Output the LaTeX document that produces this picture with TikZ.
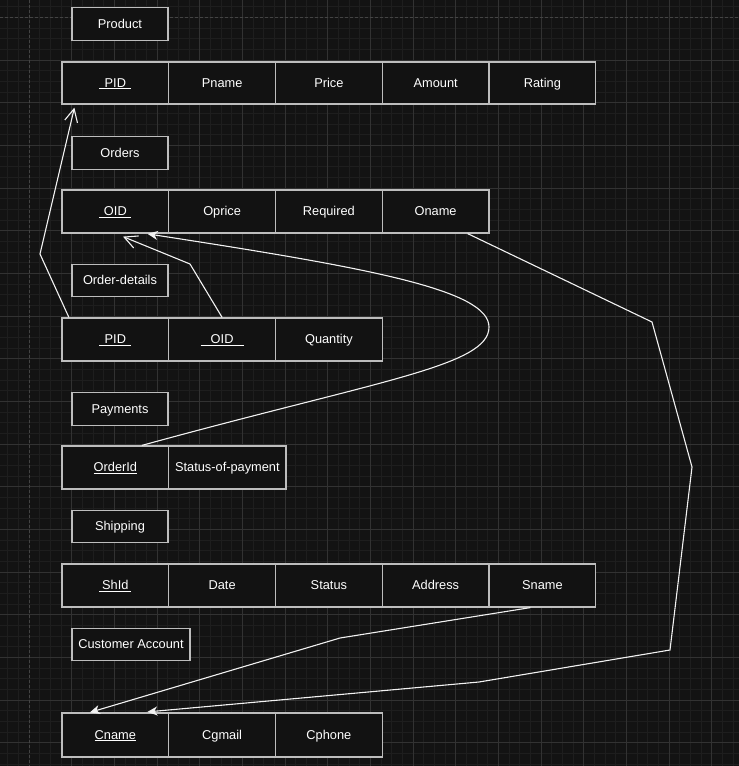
\documentclass[tikz,border=0pt]{standalone}
\usepackage{fontspec}
\setmainfont{Liberation Sans}
\usetikzlibrary{arrows.meta,calc}

\definecolor{canvas}{HTML}{131313}
\definecolor{gridminor}{HTML}{1E1E1E}
\definecolor{gridmajor}{HTML}{323232}
\definecolor{pageline}{HTML}{444444}
\definecolor{boxfill}{HTML}{121212}
\definecolor{boxline}{HTML}{BDBDBD}
\definecolor{wire}{HTML}{F2F2F2}

% underlined key text with a fixed underline width
\newcommand{\keytext}[2]{\underline{\makebox[#1pt][c]{#2}}}

\tikzset{
  base/.style={rectangle, draw=boxline, fill=boxfill, line width=1.2pt,
    text=white, font=\fontsize{12.8}{15}\selectfont, inner sep=0pt,
    text height=10pt, text depth=2pt},
  titlebox/.style={base, minimum width=96, minimum height=32.5},
  cell/.style={base, minimum width=106.75, minimum height=43},
  gminor/.style={draw=gridminor, line width=1pt},
  gmajor/.style={draw=gridmajor, line width=1pt},
  openarrow/.style={draw=wire, line width=1.1pt,
    -{Straight Barb[length=13,width=13,line width=1.1pt]}},
  fillarrow/.style={draw=wire, line width=1.1pt,
    -{Stealth[length=10,width=9,inset=3]}}
}

\begin{document}
\begin{tikzpicture}[x=1pt,y=-1pt]
\useasboundingbox (0,0) rectangle (739,766);
\fill[canvas] (0,0) rectangle (739,766);

% background grid
\foreach \i in {-2,...,66} \draw[gminor] ({29+\i*10.6667},0) -- ({29+\i*10.6667},766);
\foreach \i in {-1,...,70} \draw[gminor] (0,{17.5+\i*10.6667}) -- (739,{17.5+\i*10.6667});
\foreach \i in {1,...,16} \draw[gmajor] ({29+\i*42.6667},0) -- ({29+\i*42.6667},766);
\foreach \i in {1,...,17} \draw[gmajor] (0,{17.5+\i*42.6667}) -- (739,{17.5+\i*42.6667});
\draw[pageline, line width=1pt, dash pattern=on 3pt off 2pt] (29,0) -- (29,766);
\draw[pageline, line width=1pt, dash pattern=on 3pt off 2pt] (0,17.5) -- (739,17.5);

% Product
\node[titlebox] (prod) at (120,24) {Product};
\node[cell, minimum height=42] (p1) at (115.375,83) {\keytext{32}{PID}};
\node[cell, minimum height=42] (p2) at (222.125,83) {Pname};
\node[cell, minimum height=42] (p3) at (328.875,83) {Price};
\node[cell, minimum height=42] (p4) at (435.625,83) {Amount};
\node[cell, minimum height=42] (p5) at (542.375,83) {Rating};

% Orders
\node[titlebox] (ord) at (120,153) {Orders};
\node[cell] (o1) at (115.375,211.5) {\keytext{32}{OID}};
\node[cell] (o2) at (222.125,211.5) {Oprice};
\node[cell] (o3) at (328.875,211.5) {Required};
\node[cell] (o4) at (435.625,211.5) {Oname};

% Order-details
\node[titlebox] (odl) at (120,280.5) {Order-details};
\node[cell] (d1) at (115.375,339.5) {\keytext{32}{PID}};
\node[cell] (d2) at (222.125,339.5) {\keytext{43}{OID}};
\node[cell] (d3) at (328.875,339.5) {Quantity};

% Payments
\node[titlebox] (pay) at (120,409) {Payments};
\node[cell] (y1) at (115.375,467.5) {\underline{OrderId}};
\node[cell, minimum width=117.25] (y2) at (227.375,467.5) {Status-of-payment};

% Shipping
\node[titlebox] (shp) at (120,526.5) {Shipping};
\node[cell] (s1) at (115.375,585.5) {\keytext{32}{ShId}};
\node[cell] (s2) at (222.125,585.5) {Date};
\node[cell] (s3) at (328.875,585.5) {Status};
\node[cell] (s4) at (435.625,585.5) {Address};
\node[cell] (s5) at (542.375,585.5) {Sname};

% Customer Account
\node[titlebox, minimum width=118] (cus) at (131,644.5) {Customer Account};
\node[cell, minimum height=44] (c1) at (115.375,735) {\underline{Cname}};
\node[cell, minimum height=44] (c2) at (222.125,735) {Cgmail};
\node[cell, minimum height=44] (c3) at (328.875,735) {Cphone};

% Order-details.PID -> Product.PID
\draw[openarrow] ($(d1.north west)+(7.5,0)$) -- (40,254) -- ($(p1.south west)+(13,3)$);

% Order-details.OID -> Orders.OID
\draw[openarrow] (d2.north) -- (190,264) -- ($(o1.south)+(7.6,3)$);

% Payments.OrderId -> Orders.OID
\draw[fillarrow] ($(y1.north)+(26.5,0)$)
  .. controls (380,380) and (489,366) .. (489,327)
  .. controls (489,290) and (370,268) .. ($(o1.south)+(32.3,0.3)$);

% Orders.Oname -> Customer.Cname
\draw[fillarrow] ($(o4.south)+(32,0)$) -- (652,322) -- (692,467) -- (670,650)
  -- (479,682) -- ($(c1.north)+(32,-0.5)$);

% Shipping.Sname -> Customer.Cname
\draw[fillarrow] ($(s5.south)+(-12,0)$) -- (340,638) -- ($(c1.north)+(-25.5,0)$);
\end{tikzpicture}
\end{document}
